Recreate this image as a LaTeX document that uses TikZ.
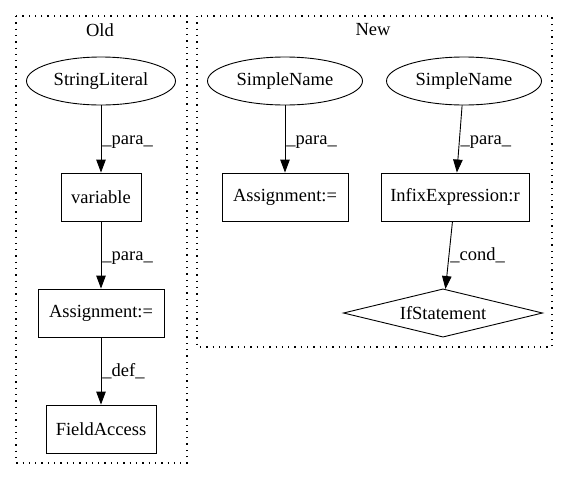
\documentclass[tikz,border=0pt]{standalone}
\usepackage{fontspec}
\setmainfont{Liberation Serif}
\usetikzlibrary{shapes.geometric,arrows.meta}
\tikzset{
  base/.style={line width=0.9pt, inner sep=0pt, font=\fontsize{18.5}{21}\selectfont},
  boxnode/.style={base, draw, rectangle, minimum height=48pt},
  ellnode/.style={base, draw, ellipse, minimum height=48pt},
  dianode/.style={base, rectangle, minimum width=198pt, minimum height=47pt},
  cluster/.style={line width=1.1pt, dash pattern=on 1.3pt off 5pt},
  title/.style={font=\fontsize{18.5}{21}\selectfont, inner sep=0pt},
  lbl/.style={font=\fontsize{18.5}{21}\selectfont, inner sep=1pt, anchor=west},
  arr/.style={line width=0.9pt, -{Triangle[length=13pt,width=9.5pt]}}
}
\begin{document}
\begin{tikzpicture}[x=1pt,y=-1pt]
\useasboundingbox (0,0) rectangle (568,480);
\fill[white] (0,0) rectangle (568,480);
% clusters
\draw[cluster] (16,16) rectangle (187,463);
\node[title] (toldt) at (100,30) {Old};
\draw[cluster] (197,16) rectangle (552,347);
\node[title] (tnew) at (373,30) {New};
% Old nodes
\node[ellnode, minimum width=149pt] (sl) at (101,81) {StringLiteral};
\node[boxnode, minimum width=80pt] (var) at (101,197) {variable};
\node[boxnode, minimum width=126pt] (asg1) at (101,313) {Assignment:=};
\node[boxnode, minimum width=110pt] (fa) at (101,429) {FieldAccess};
% New nodes
\node[ellnode, minimum width=155pt] (sn1) at (285,81) {SimpleName};
\node[ellnode, minimum width=155pt] (sn2) at (464,81) {SimpleName};
\node[boxnode, minimum width=126pt] (asg2) at (285,197) {Assignment:=};
\node[boxnode, minimum width=148pt] (inf) at (455,197) {InfixExpression:r};
\node[dianode] (ifs) at (443,313) {IfStatement};
\draw[line width=0.9pt] (ifs.north) -- (ifs.east) -- (ifs.south) -- (ifs.west) -- cycle;
% edges
\draw[arr] (sl) -- node[lbl, pos=0.55] {\_para\_} (var);
\draw[arr] (var) -- node[lbl, pos=0.55] {\_para\_} (asg1);
\draw[arr] (asg1) -- node[lbl, pos=0.5] {\_def\_} (fa);
\draw[arr] (sn1) -- node[lbl, pos=0.55] {\_para\_} (asg2);
\draw[arr] (sn2) -- node[lbl, pos=0.55] {\_para\_} (inf);
\draw[arr] (inf) -- node[lbl, pos=0.5] {\_cond\_} (ifs);
\end{tikzpicture}
\end{document}
